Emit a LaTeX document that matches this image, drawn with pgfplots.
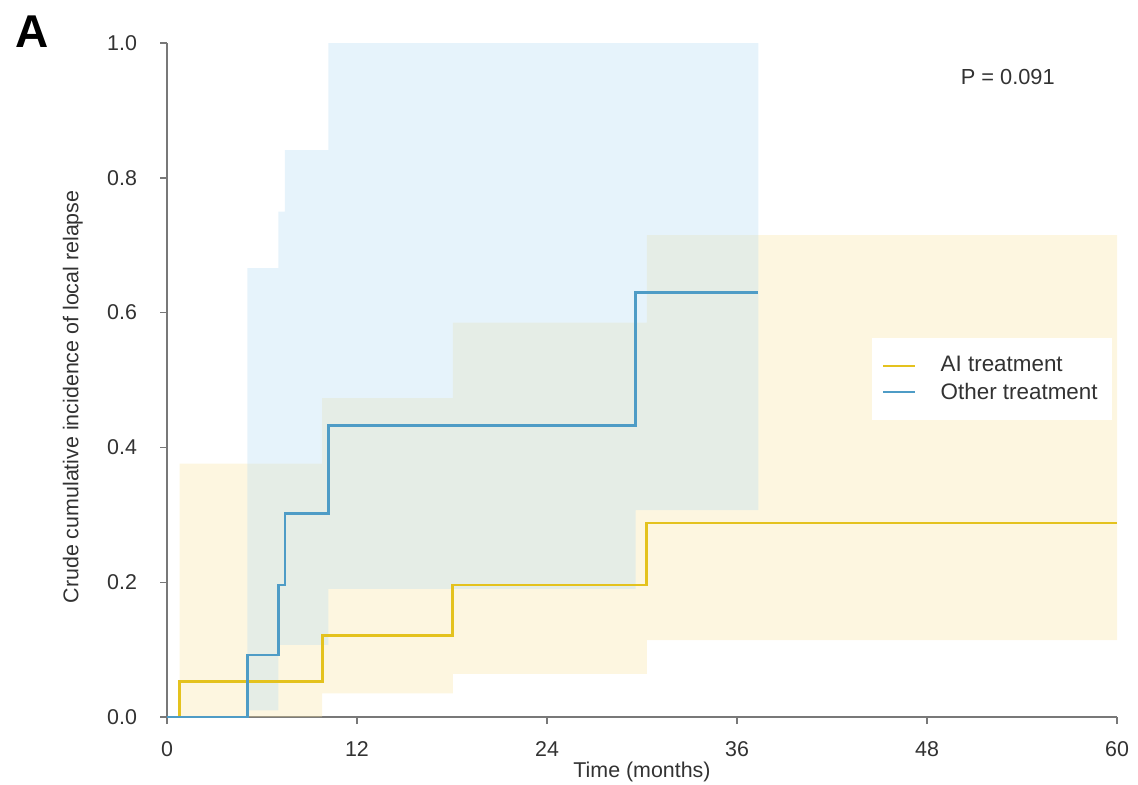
\documentclass[border=0pt]{standalone}
\usepackage{fontspec}
\setmainfont{Liberation Sans}
\usepackage{pgfplots}
\pgfplotsset{compat=1.18}
\definecolor{ailine}{RGB}{228,194,30}
\definecolor{otline}{RGB}{78,156,198}
\definecolor{aifill}{RGB}{250,228,160}
\definecolor{otfill}{RGB}{172,216,242}
\definecolor{axgray}{RGB}{120,120,120}
\definecolor{txgray}{RGB}{50,50,50}
\begin{document}
\begin{tikzpicture}
\useasboundingbox (0,0) rectangle (569pt,392pt);
\begin{axis}[
  at={(83.5pt,33.5pt)}, anchor=south west,
  scale only axis, width=475pt, height=337pt,
  xmin=0, xmax=60, ymin=0, ymax=1,
  axis lines*=left,
  axis line style={axgray, line width=0.7pt},
  tick style={axgray, line width=0.7pt},
  tick align=outside, major tick length=3.5pt,
  xtick={0,12,24,36,48,60},
  ytick={0,0.2,0.4,0.6,0.8,1.0},
  /pgf/number format/assume math mode=true,
  ticklabel style={font=\fontsize{10.7}{12}\selectfont, text=txgray},
  xticklabel style={yshift=-5pt},
  yticklabel style={xshift=-8pt, /pgf/number format/fixed, /pgf/number format/fixed zerofill, /pgf/number format/precision=1},
  xlabel={Time (months)},
  ylabel={Crude cumulative incidence of local relapse},
  label style={font=\fontsize{10.7}{12}\selectfont, text=txgray},
  xlabel style={at={(axis description cs:0.5,-0.0816)}, anchor=center},
  ylabel style={at={(axis description cs:-0.099,0.475)}, anchor=center},
  clip=false,
  legend style={draw=none, fill=white, at={(axis description cs:0.742,0.5623)}, anchor=north west,
    font=\fontsize{11.2}{13}\selectfont, text=txgray, inner xsep=5pt, inner ysep=7pt, row sep=0pt,
    cells={anchor=west}},
  legend image code/.code={\draw[#1, line width=1pt] (0pt,0pt) -- (16pt,0pt); \path (26pt,0pt);},
]
% AI treatment CI band
\addplot[draw=none, fill=aifill, fill opacity=0.32, forget plot] coordinates {
 (0.8,0.376) (9.8,0.376) (9.8,0.473) (18.05,0.473) (18.05,0.585) (30.3,0.585) (30.3,0.715) (60,0.715)
 (60,0.114) (30.3,0.114) (30.3,0.064) (18.05,0.064) (18.05,0.035) (9.8,0.035) (9.8,0) (0.8,0)} -- cycle;
% Other treatment CI band
\addplot[draw=none, fill=otfill, fill opacity=0.3, forget plot] coordinates {
 (5.07,0.666) (7.03,0.666) (7.03,0.75) (7.45,0.75) (7.45,0.841) (10.19,0.841) (10.19,1.0) (37.35,1.0)
 (37.35,0.307) (29.6,0.307) (29.6,0.19) (10.19,0.19) (10.19,0.107) (7.03,0.107) (7.03,0.01) (5.07,0.01)} -- cycle;
% AI treatment
\addplot[const plot, ailine, line width=1.4pt] coordinates {
 (0,0) (0.8,0.053) (9.8,0.121) (18.05,0.196) (30.3,0.288) (60,0.288)};
\addlegendentry{AI treatment}
% Other treatment
\addplot[const plot, otline, line width=1.4pt] coordinates {
 (0,0) (5.07,0.092) (7.03,0.196) (7.45,0.302) (10.19,0.433) (29.6,0.63) (37.35,0.63)};
\addlegendentry{Other treatment}
\node[font=\fontsize{10.9}{12}\selectfont, text=txgray] at (axis description cs:0.885,0.9496) {P = 0.091};
\node[font=\fontsize{23}{24}\selectfont\bfseries, anchor=base] at (axis description cs:-0.142,0.9926) {A};
\end{axis}
\end{tikzpicture}
\end{document}
